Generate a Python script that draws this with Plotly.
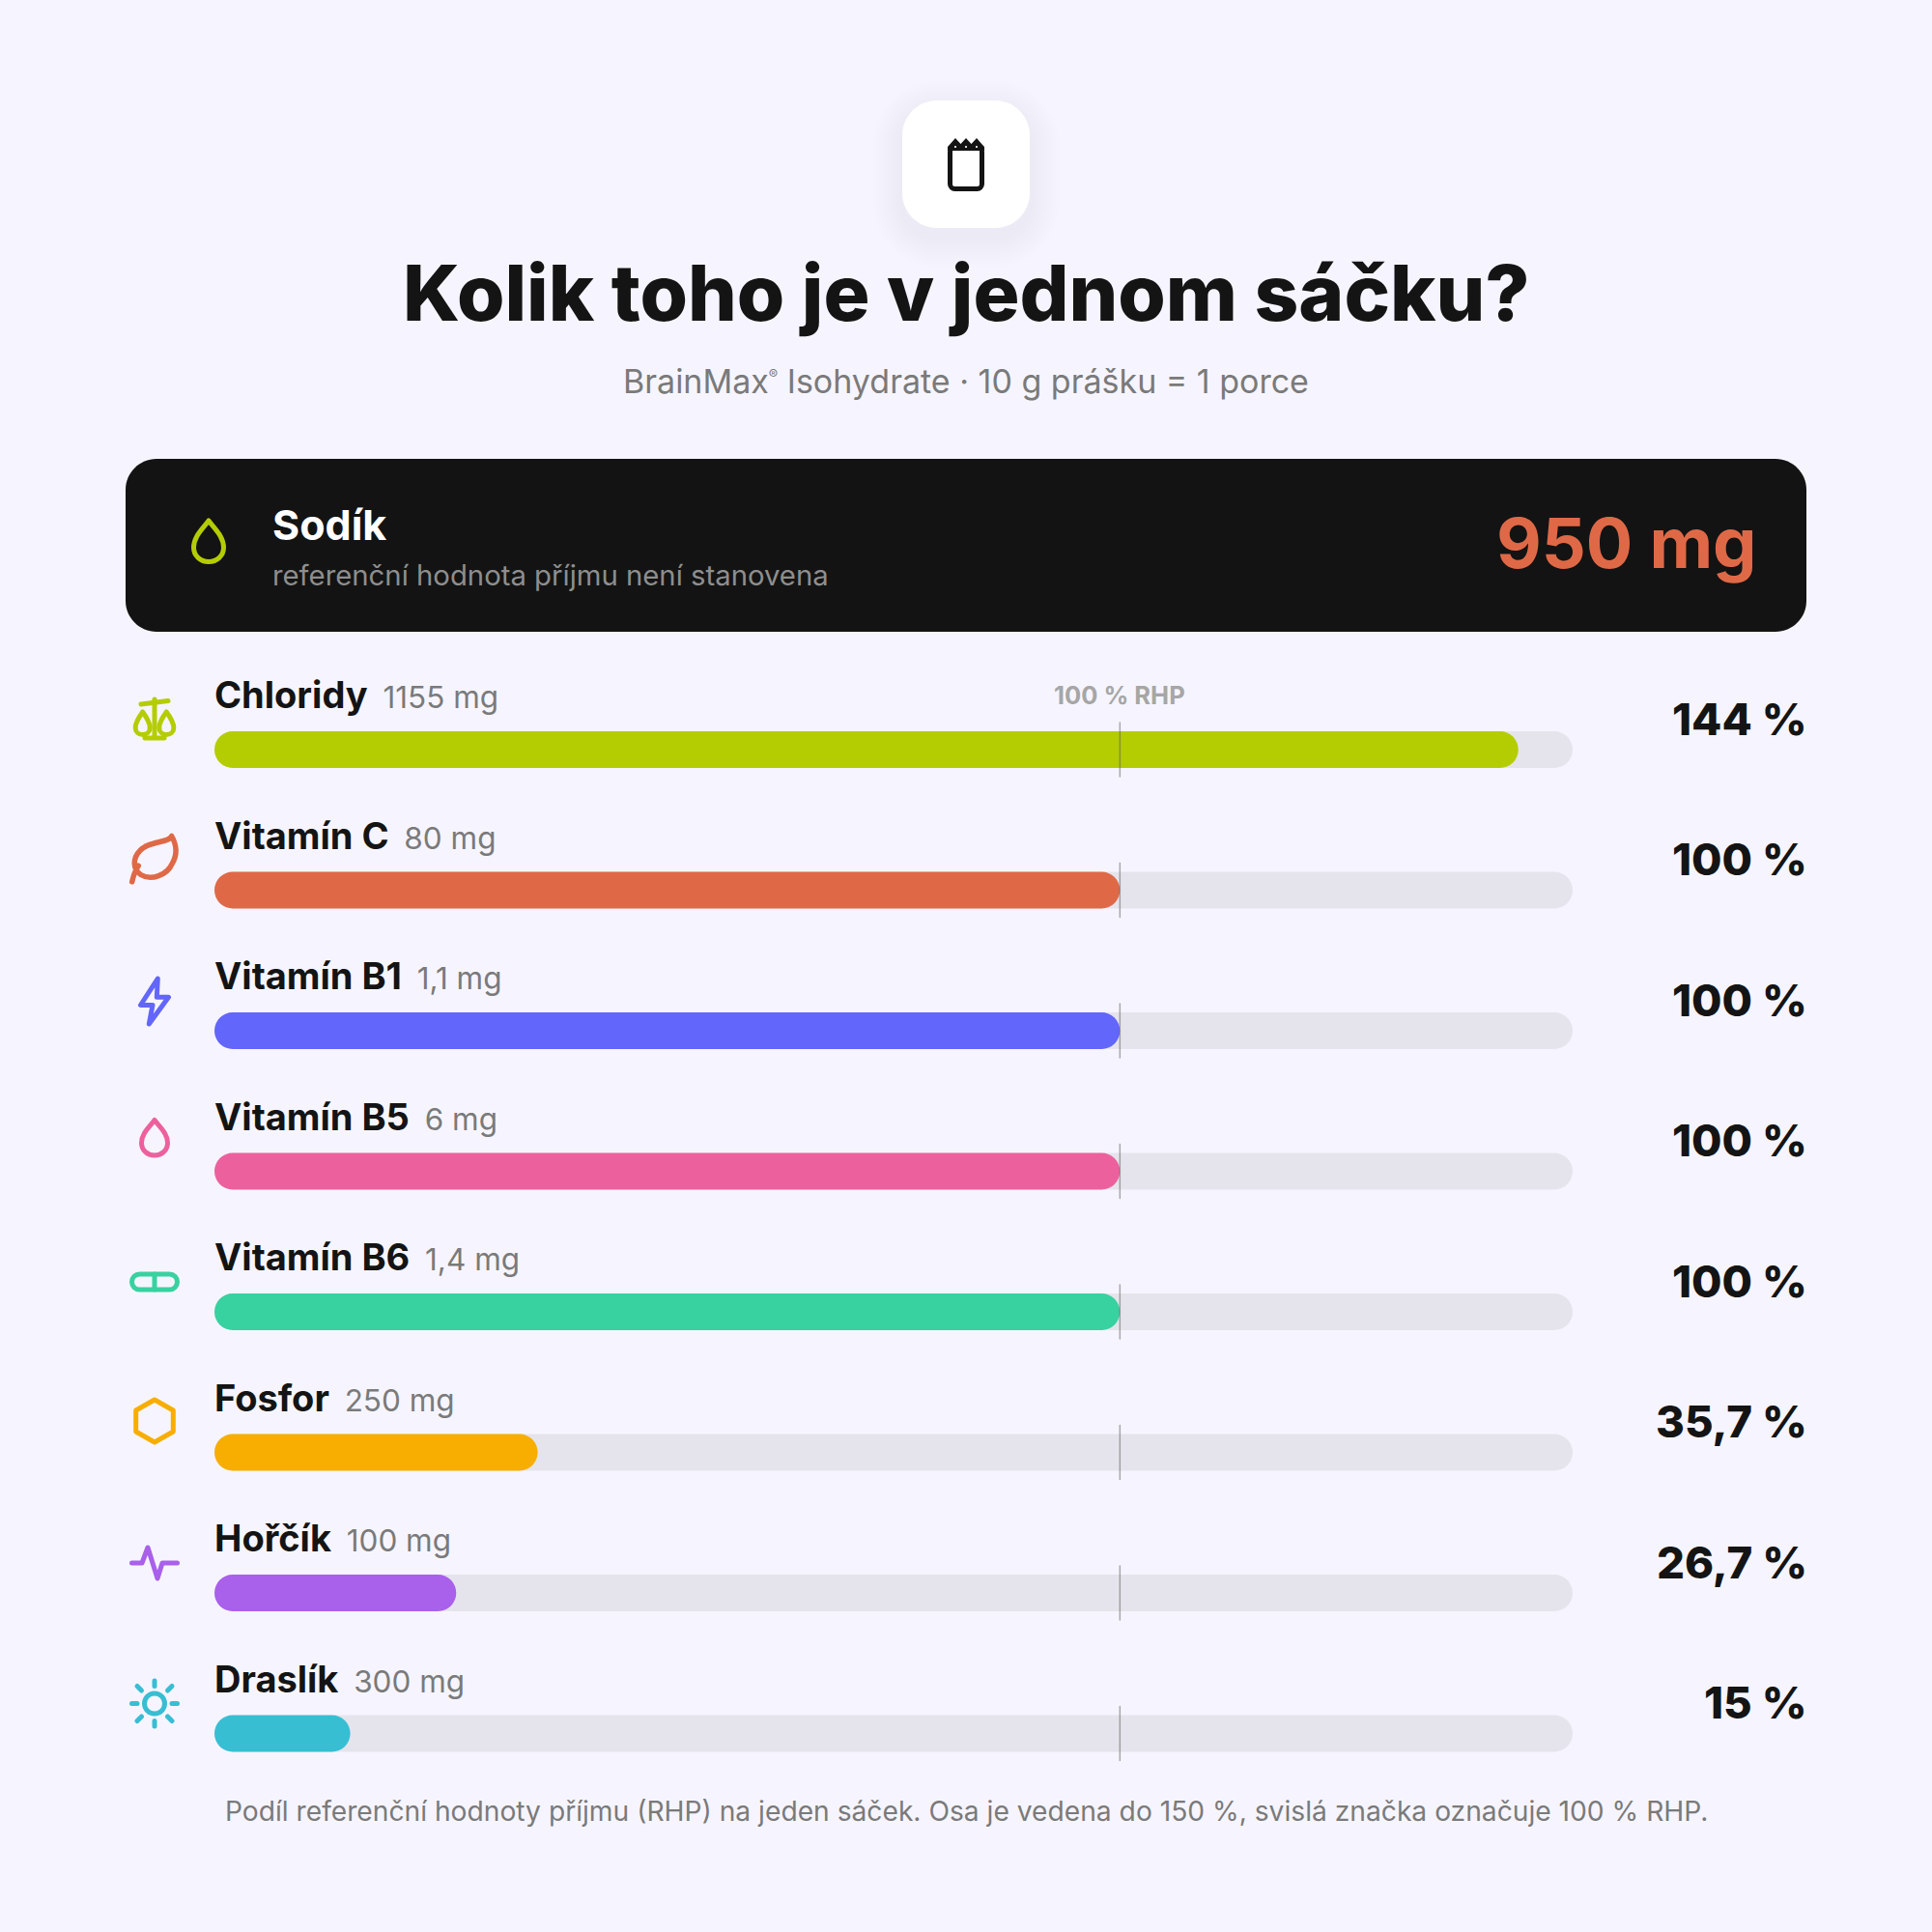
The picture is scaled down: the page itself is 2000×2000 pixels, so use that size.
import re
import plotly.graph_objects as go

FONT = "Inter"
BG = "#F6F5FF"
INK = "#141414"
W = 2000

# data
nazvy = ["Chloridy", "Vitamín C", "Vitamín B1", "Vitamín B5", "Vitamín B6", "Fosfor", "Hořčík", "Draslík"]
davky = ["1155 mg", "80 mg", "1,1 mg", "6 mg", "1,4 mg", "250 mg", "100 mg", "300 mg"]
procenta = [144, 100, 100, 100, 100, 35.7, 26.7, 15]
popisky = ["144 %", "100 %", "100 %", "100 %", "100 %", "35,7 %", "26,7 %", "15 %"]
barvy = ["#B4CD03", "#DF6947", "#6366FA", "#EC619D", "#38D1A0", "#F7AE00", "#A960EA", "#38BED3"]
ikony = ["vaha", "list", "blesk", "kapka", "pilulka", "hexagon", "puls", "slunce"]
osa_max = 150
znacka = 100

# row geometry in pixels
ROW0 = 776
PITCH = 145.5
BAR_H = 38
TRACK_L = 222
TRACK_R = 1628


def to_paper(path):
    # path is written in pixels, this turns it into paper fractions
    out = []
    is_x = True
    for tok in re.findall(r"[MLCQZ]|-?[\d.]+", path):
        if tok.isalpha():
            out.append(tok)
            is_x = True
        elif is_x:
            out.append(f"{float(tok) / W:.5f}")
            is_x = False
        else:
            out.append(f"{1 - float(tok) / W:.5f}")
            is_x = True
    return " ".join(out)


def shape(path, color=None, fill=None, width=5, layer="above", opacity=1):
    return dict(type="path", xref="paper", yref="paper", path=to_paper(path), layer=layer, opacity=opacity,
                line=dict(color=color or "rgba(0,0,0,0)", width=width if color else 0),
                fillcolor=fill or "rgba(0,0,0,0)")


def round_rect(x0, y0, x1, y1, r):
    k = r * 0.45
    return (f"M {x0 + r} {y0} L {x1 - r} {y0} C {x1 - k} {y0} {x1} {y0 + k} {x1} {y0 + r} "
            f"L {x1} {y1 - r} C {x1} {y1 - k} {x1 - k} {y1} {x1 - r} {y1} "
            f"L {x0 + r} {y1} C {x0 + k} {y1} {x0} {y1 - k} {x0} {y1 - r} "
            f"L {x0} {y0 + r} C {x0} {y0 + k} {x0 + k} {y0} {x0 + r} {y0} Z")


def circle(cx, cy, r):
    k = r * 0.5523
    return (f"M {cx - r} {cy} C {cx - r} {cy - k} {cx - k} {cy - r} {cx} {cy - r} "
            f"C {cx + k} {cy - r} {cx + r} {cy - k} {cx + r} {cy} "
            f"C {cx + r} {cy + k} {cx + k} {cy + r} {cx} {cy + r} "
            f"C {cx - k} {cy + r} {cx - r} {cy + k} {cx - r} {cy} Z")


def drop(cx, cy, hw, top, bot):
    # teardrop, widest a bit under the middle
    mid = cy + (bot - hw * 0.95)
    return (f"M {cx} {cy + top} C {cx + hw * 0.4} {cy + top + hw * 0.55} {cx + hw} {mid - hw * 0.75} {cx + hw} {mid} "
            f"C {cx + hw} {mid + hw * 0.55} {cx + hw * 0.55} {cy + bot} {cx} {cy + bot} "
            f"C {cx - hw * 0.55} {cy + bot} {cx - hw} {mid + hw * 0.55} {cx - hw} {mid} "
            f"C {cx - hw} {mid - hw * 0.75} {cx - hw * 0.4} {cy + top + hw * 0.55} {cx} {cy + top} Z")


def line_path(cx, cy, pts):
    return "M " + " L ".join(f"{cx + a} {cy + b}" for a, b in pts)


def icon(name, cx, cy, c):
    if name == "vaha":
        return [shape(line_path(cx, cy, [(-14, -16), (14, -19.5)]), c, width=5),
                shape(line_path(cx, cy, [(0, -21), (0, 17)]), c, width=5),
                shape(drop(cx - 12.3, cy, 7.5, -8, 15.5), c, width=5),
                shape(drop(cx + 12.3, cy, 7.5, -8, 15.5), c, width=5),
                shape(line_path(cx, cy, [(-10, 19), (10, 19)]), c, width=5)]
    if name == "list":
        leaf = (f"M {cx + 17.7} {cy - 25} C {cx + 15} {cy - 17.7} {cx - 6.7} {cy - 20} {cx - 15} {cy - 10} "
                f"C {cx - 23.3} {cy - 1.7} {cx - 22.3} {cy + 10} {cx - 14.3} {cy + 15} "
                f"C {cx - 3.3} {cy + 21.7} {cx + 13.3} {cy + 15} {cx + 18.3} {cy + 3.3} "
                f"C {cx + 24.3} {cy - 6.7} {cx + 22.3} {cy - 16.7} {cx + 17.7} {cy - 25} Z")
        stem = f"M {cx - 23.3} {cy + 22.3} Q {cx - 21} {cy + 12} {cx - 16.7} {cy + 5.7}"
        return [shape(leaf, c, width=5.5), shape(stem, c, width=5.5)]
    if name == "blesk":
        pts = [(3.3, -23), (-14.5, 4.5), (-2, 4.5), (-5.7, 24), (14.5, -3.7), (2.3, -3.7), (3.3, -23)]
        return [shape(line_path(cx, cy, pts) + " Z", c, width=5)]
    if name == "kapka":
        return [shape(drop(cx, cy - 4, 13.5, -18, 18.5), c, width=5)]
    if name == "pilulka":
        return [shape(round_rect(cx - 23.5, cy - 8, cx + 23.5, cy + 8, 8), c, width=5),
                shape(line_path(cx, cy, [(0, -8), (0, 8)]), c, width=5)]
    if name == "hexagon":
        cy -= 1.5
        pts = [(0, -22), (19.3, -11), (19.3, 11), (0, 22), (-19.3, 11), (-19.3, -11)]
        return [shape(line_path(cx, cy, pts) + " Z", c, width=5)]
    if name == "puls":
        pts = [(-23.5, 0), (-13, 0), (-7, -16), (3, 16), (8, 0), (23.5, 0)]
        return [shape(line_path(cx, cy, pts), c, width=5)]
    rays = [((0, -23.5), (0, -18)), ((0, 18), (0, 23.5)), ((-23.5, 0), (-18, 0)), ((18, 0), (23.5, 0)),
            ((-18, -18), (-13.5, -13.5)), ((18, -18), (13.5, -13.5)), ((-18, 18), (-13.5, 13.5)), ((18, 18), (13.5, 13.5))]
    return [shape(circle(cx, cy, 10.5), c, width=5)] + [shape(line_path(cx, cy, list(r)), c, width=5) for r in rays]


fig = go.Figure()

# grey tracks, then the coloured fills over them
# base has to be set, without it overlaid bars lose their rounded ends
fig.add_trace(go.Bar(y=nazvy, x=[osa_max] * len(nazvy), base=0, orientation="h", width=BAR_H / PITCH,
                     marker=dict(color="#E5E4EC", cornerradius=BAR_H / 2, line_width=0), hoverinfo="skip"))
fig.add_trace(go.Bar(y=nazvy, x=procenta, base=0, orientation="h", width=BAR_H / PITCH,
                     marker=dict(color=barvy, cornerradius=BAR_H / 2, line_width=0), hoverinfo="skip"))

shapes = []

# soft shadow under the white tile
for i in range(10):
    g = 30 - i * 3
    shapes.append(shape(round_rect(934 - g, 104 + 10 - g, 1066 + g, 236 + 10 + g, 36 + g),
                        fill="#4A4680", layer="below", opacity=0.008))
shapes.append(shape(round_rect(934, 104, 1066, 236, 36), fill="#FFFFFF", layer="below"))

# notepad icon in the tile
shapes.append(shape(round_rect(983.5, 152, 1016.5, 195.5, 5), INK, width=5))
shapes.append(shape("M 981 156 L 981 152 L 989 143 L 994.5 149 L 1000 143 L 1005.5 149 L 1011 143 L 1019 152 "
                    "L 1019 156 Z", fill=INK))
for dot in (989, 1000, 1011):
    shapes.append(shape(circle(dot, 152, 1), fill="#FFFFFF"))

# dark sodium card
shapes.append(shape(round_rect(130, 475, 1870, 654, 32), fill="#131313", layer="below"))
shapes.append(shape(drop(216, 560, 15.5, -21, 21.5), "#B4CD03", width=5))

# 100 % RHP tick on every row
for n in range(len(nazvy)):
    shapes.append(dict(type="line", xref="x", yref="y", x0=znacka, x1=znacka, y0=n - 28 / PITCH, y1=n + 28 / PITCH,
                       line=dict(color="rgba(90,90,90,0.5)", width=1.5), layer="above"))

for n, name in enumerate(ikony):
    shapes += icon(name, 160, ROW0 + n * PITCH - 31, barvy[n])


def px_text(text, x, y, size, color, anchor="center", weight=400):
    return dict(text=text, xref="paper", yref="paper", x=x / W, y=1 - y / W, xanchor=anchor, yanchor="middle",
                showarrow=False, borderpad=0, font=dict(family=FONT, size=size, color=color, weight=weight))


annotations = [
    px_text("Kolik toho je v jednom sáčku?", 1000, 302.5, 80, INK, weight=800),
    px_text("BrainMax<sup><span style='font-size:14px'>®</span></sup> Isohydrate · 10 g prášku = 1 porce",
            1000, 394, 34, "#7A7A7A"),
    px_text("Sodík", 281, 543, 43, "#FFFFFF", "left", 700),
    px_text("referenční hodnota příjmu není stanovena", 281, 595, 29.3, "#8E8E8E", "left"),
    px_text("950 mg", 1820, 561.5, 72, "#DF6947", "right", 700),
    px_text("Podíl referenční hodnoty příjmu (RHP) na jeden sáček. Osa je vedena do 150 %, svislá značka označuje 100 % RHP.",
            1000, 1875, 28.2, "#7A7A7A"),
]

for n in range(len(nazvy)):
    # name and dose share one label so the dose follows the name width
    annotations.append(dict(text=f"<b>{nazvy[n]}</b><span style='font-size:31.5px;color:#7A7A7A'>\u2002{davky[n]}</span>",
                            xref="x", yref="y", x=0, y=nazvy[n], yshift=57, xshift=-1, xanchor="left", yanchor="middle",
                            showarrow=False, borderpad=0, font=dict(family=FONT, size=38, color=INK)))
    annotations.append(dict(text=popisky[n], xref="paper", yref="y", x=1872 / W, y=nazvy[n], yshift=32,
                            xanchor="right", yanchor="middle", showarrow=False, borderpad=0,
                            font=dict(family=FONT, size=45.5, color=INK, weight=800)))

annotations.append(dict(text="100 % RHP", xref="x", yref="y", x=znacka, y=nazvy[0], yshift=57, xanchor="center",
                        yanchor="middle", showarrow=False, borderpad=0,
                        font=dict(family=FONT, size=25.5, color="#A6A6A6", weight=700)))

fig.update_layout(
    width=W,
    height=W,
    margin=dict(l=0, r=0, t=0, b=0),
    paper_bgcolor=BG,
    plot_bgcolor="rgba(0,0,0,0)",
    barmode="overlay",
    showlegend=False,
    shapes=shapes,
    annotations=annotations,
    xaxis=dict(visible=False, range=[0, osa_max], domain=[TRACK_L / W, TRACK_R / W]),
    yaxis=dict(visible=False, type="category", categoryorder="array", categoryarray=nazvy,
               range=[len(nazvy) - 0.5, -0.5],
               domain=[1 - (ROW0 + 7.5 * PITCH) / W, 1 - (ROW0 - 0.5 * PITCH) / W]),
)

# page margin off, round line ends on the icons
fig.write_html("out.html", config={"displayModeBar": False}, post_script="""
document.body.style.margin = '0';
document.querySelectorAll('.shapelayer path').forEach(function (p) {
    p.style.strokeLinejoin = 'round';
    p.style.strokeLinecap = 'round';
});
""")
